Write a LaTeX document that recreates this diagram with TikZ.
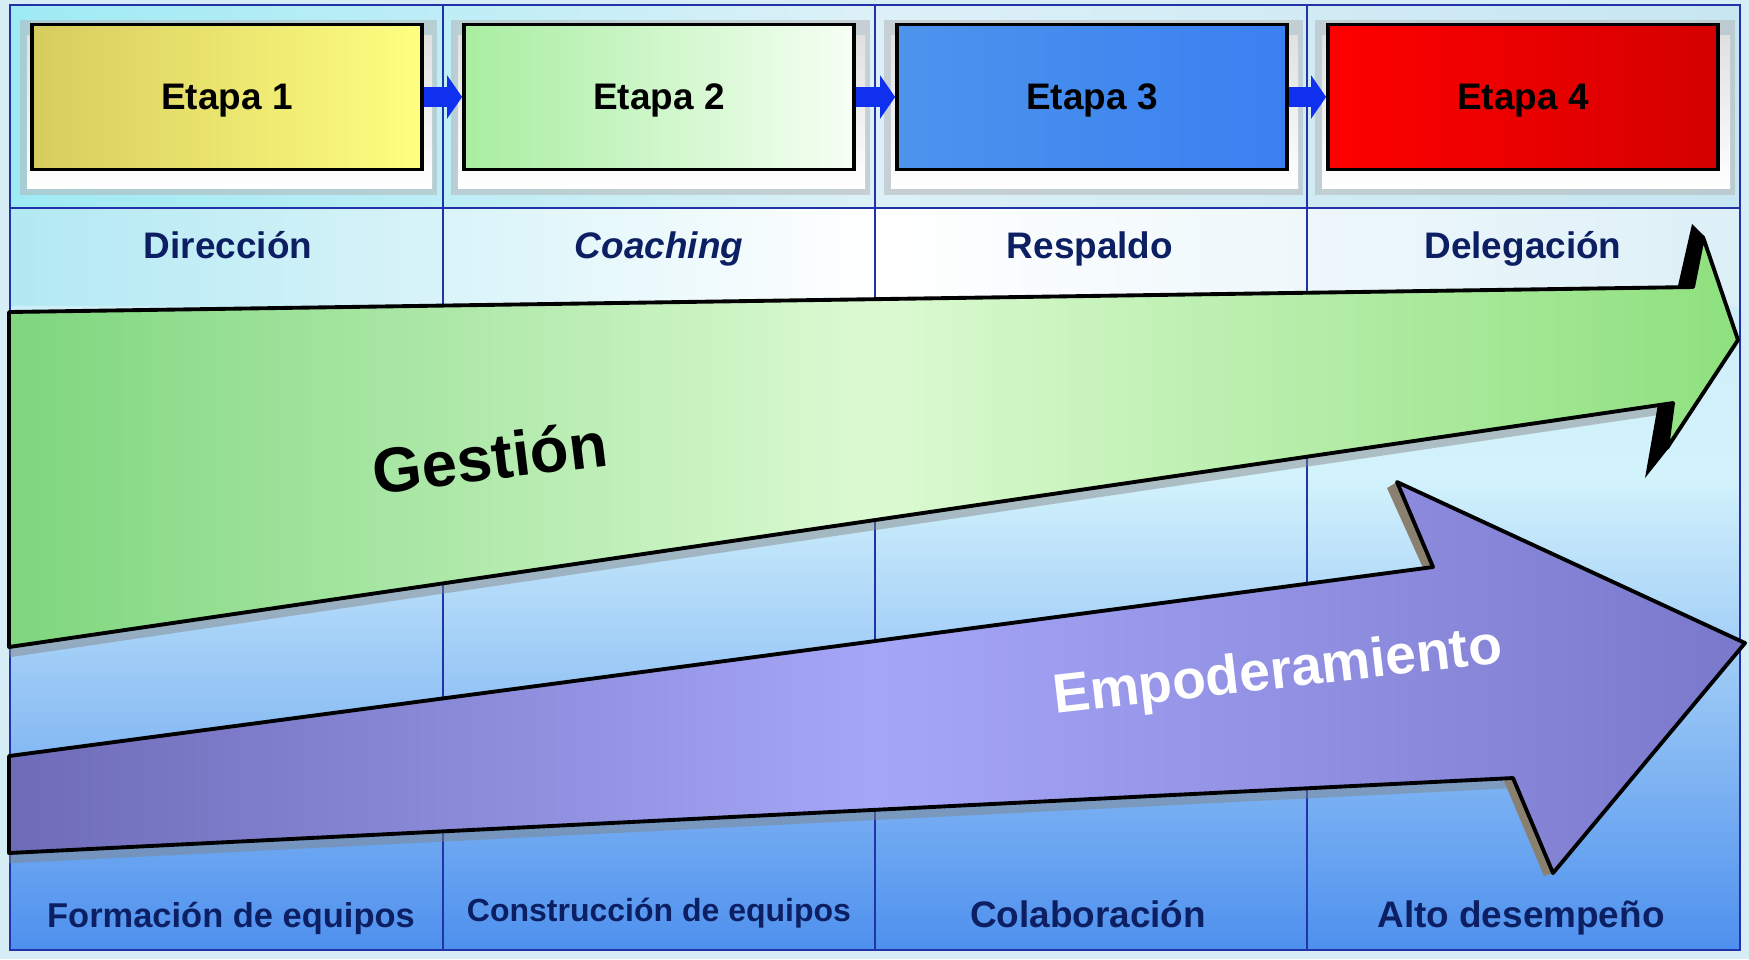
\documentclass[tikz,border=0pt]{standalone}
\usepackage{fontspec}
\setmainfont{Liberation Sans}
\usetikzlibrary{arrows.meta}
\definecolor{navy}{HTML}{0C1F63}
\definecolor{gridblue}{HTML}{2233AA}
\definecolor{linkblue}{HTML}{1030F0}
\definecolor{bgT}{HTML}{C6E6F2}
\definecolor{bgM}{HTML}{D2F2FC}
\definecolor{bgB}{HTML}{4E90EE}
\definecolor{yelL}{HTML}{D6CC5E}
\definecolor{yelR}{HTML}{FFFF80}
\definecolor{grnL}{HTML}{A8EEA0}
\definecolor{grnR}{HTML}{F6FFF4}
\definecolor{bluL}{HTML}{4C94EC}
\definecolor{bluR}{HTML}{3A80F2}
\definecolor{redL}{HTML}{FF0000}
\definecolor{redR}{HTML}{D40000}
\definecolor{gesL}{HTML}{7ED67E}
\definecolor{gesM}{HTML}{DCFAD2}
\definecolor{gesR}{HTML}{8EE07E}
\definecolor{empL}{HTML}{6E6CB8}
\definecolor{empM}{HTML}{A6A6F8}
\definecolor{empR}{HTML}{7A78CA}
\definecolor{barb}{HTML}{8A8070}
\begin{document}
\begin{tikzpicture}[x=0.01cm,y=-0.01cm]
  \tikzstyle{stage}=[draw=black,line width=1pt,minimum width=3.9cm,minimum height=1.45cm,inner sep=0pt,font=\fontsize{10.4}{12}\selectfont\bfseries]
  \tikzstyle{slab}=[top color=black!12,bottom color=white]
  \tikzstyle{rowtext}=[anchor=base,inner sep=0pt,text=navy,font=\fontsize{10.5}{12}\selectfont\bfseries]
  \tikzstyle{resulttext}=[anchor=base,inner sep=0pt,text=navy,font=\fontsize{10.5}{12}\selectfont\bfseries]
  \tikzstyle{stagelink}=[draw=linkblue,line width=5.7pt,-{Triangle[length=4.3pt,width=12.2pt]}]
  \tikzstyle{divider}=[draw=gridblue,line width=0.6pt]
  \tikzstyle{edgeshade}=[draw=black!50,opacity=0.45,line width=3pt]
  \tikzstyle{gestion}=[draw=black,line width=1.1pt,line join=round,left color=gesL,right color=gesR,middle color=gesM]
  \tikzstyle{empower}=[draw=black,line width=1.1pt,line join=round,left color=empL,right color=empR,middle color=empM]
  \useasboundingbox (0,0) rectangle (1749,959);
  % background
  \fill[bgT!70!white] (0,0) rectangle (1749,959);
  \fill[top color=bgT,bottom color=bgB,middle color=bgM] (10,5) rectangle (1740,950);
  \fill[left color=bgT!80!cyan,right color=bgT,middle color=bgT!60!white] (10,5) rectangle (1740,208);
  \fill[left color=bgT!90!cyan,right color=bgT!60!white,middle color=white] (10,208) rectangle (1740,305);
  \draw[divider] (10,5) rectangle (1740,950);
  \draw[divider] (10,208) -- (1740,208);
  \draw[divider] (443,5) -- (443,950);
  \draw[divider] (875,5) -- (875,950);
  \draw[divider] (1307,5) -- (1307,950);
  % stage boxes
  \fill[black!30,opacity=0.5] (20,20) rectangle (437,195);
  \fill[black!30,opacity=0.5] (451,20) rectangle (870,195);
  \fill[black!30,opacity=0.5] (884,20) rectangle (1303,195);
  \fill[black!30,opacity=0.5] (1315,20) rectangle (1735,195);
  \fill[slab] (27,35) rectangle (432,188);
  \fill[slab] (458,35) rectangle (865,188);
  \fill[slab] (891,35) rectangle (1298,188);
  \fill[slab] (1322,35) rectangle (1730,188);
  \node [stage,left color=yelL,right color=yelR] (e1) at (227,97) {};
  \node [stage,left color=grnL,right color=grnR] (e2) at (659,97) {};
  \node [stage,left color=bluL,right color=bluR] (e3) at (1092,97) {};
  \node [stage,left color=redL,right color=redR] (e4) at (1523,97) {};
  \node [rowtext,text=black] (t1) at (227,109) {Etapa 1};
  \node [rowtext,text=black] (t2) at (659,109) {Etapa 2};
  \node [rowtext,text=black] (t3) at (1092,109) {Etapa 3};
  \node [rowtext,text=black] (t4) at (1523,109) {Etapa 4};
  \draw[stagelink] (e1.east) -- (e2.west);
  \draw[stagelink] (e2.east) -- (e3.west);
  \draw[stagelink] (e3.east) -- (e4.west);
  % styles of leadership
  \node [rowtext] (s1) at (228,258) {Dirección};
  \node [rowtext] (s2) at (659,258) {\itshape Coaching};
  \node [rowtext] (s3) at (1090,258) {Respaldo};
  \node [rowtext] (s4) at (1523,258) {Delegación};
  % big arrows
  \draw[edgeshade] (9,652) -- (1670,408);
  \fill[black] (1677,290) -- (1692,224) -- (1704,236) -- (1693,288) -- cycle;
  \fill[black] (1658,404) -- (1674,402) -- (1668,449) -- (1645,478) -- cycle;
  \draw[gestion] (9,312) -- (1693,287) -- (1703,237) -- (1738,340) -- (1667,448) -- (1673,403) -- (9,647) -- cycle;
  \draw[edgeshade] (9,858) -- (1510,783);
  \fill[barb] (1387,488) -- (1397,482) -- (1434,567) -- (1424,570) -- cycle;
  \fill[barb] (1504,781) -- (1513,778) -- (1553,873) -- (1544,876) -- cycle;
  \draw[empower] (9,756) -- (1433,567) -- (1397,482) -- (1745,643) -- (1553,873) -- (1513,778) -- (9,853) -- cycle;
  \node [rotate=7,font=\fontsize{18}{20}\selectfont\bfseries] (ges) at (490,457) {Gestión};
  \node [rotate=6.5,text=white,font=\fontsize{15.7}{18}\selectfont\bfseries] (emp) at (1278,674) {Empoderamiento};
  % team stages
  \node [resulttext,font=\fontsize{9.8}{12}\selectfont\bfseries] (r1) at (231,927) {Formación de equipos};
  \node [resulttext,font=\fontsize{9.1}{12}\selectfont\bfseries] (r2) at (659,921) {Construcción de equipos};
  \node [resulttext] (r3) at (1088,927) {Colaboración};
  \node [resulttext] (r4) at (1521,927) {Alto desempeño};
\end{tikzpicture}
\end{document}
